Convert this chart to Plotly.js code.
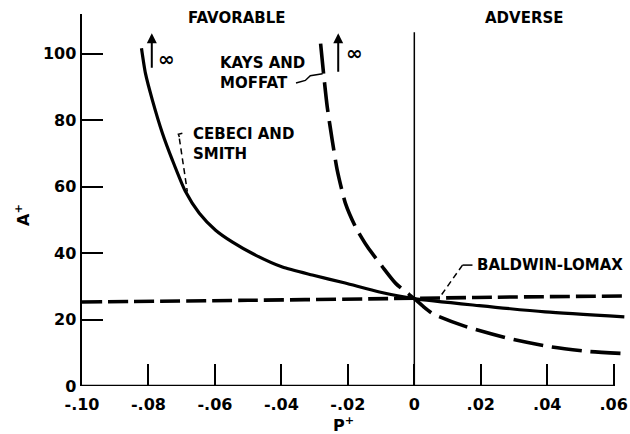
<!DOCTYPE html>
<html>
<head>
<meta charset="utf-8">
<script src="https://cdn.plot.ly/plotly-3.0.1.min.js"></script>
<style>
html,body{margin:0;padding:0;background:#fff;}
#chart{width:630px;height:434px;}
</style>
</head>
<body>
<div id="chart"></div>
<script>
// Cebeci and Smith (solid)
const cebeciX = [-0.0821, -0.0809, -0.0788, -0.0758, -0.0728, -0.0689, -0.0647, -0.0598, -0.0547, -0.0478, -0.0397, -0.0307, -0.0208, -0.0105, 0, 0.0195, 0.0394, 0.0632];
const cebeciY = [101.7, 94.1, 86.0, 76.1, 68.0, 58.6, 52.0, 46.9, 43.3, 39.4, 35.8, 33.4, 31.0, 28.3, 26.3, 24.2, 22.3, 20.8];
// Kays and Moffat (long dashes)
const kaysX = [-0.0282, -0.0272, -0.0262, -0.0247, -0.0232, -0.0207, -0.0177, -0.0141, -0.0096, -0.0056, 0, 0.0024, 0.0055, 0.0149, 0.0285, 0.0410, 0.0525, 0.0626];
const kaysY = [103.1, 93.0, 84.0, 74.0, 65.0, 54.9, 47.9, 41.9, 35.9, 30.9, 26.3, 24.2, 21.8, 18.1, 14.3, 11.8, 10.4, 9.8];
// Baldwin-Lomax (short dashes)
const baldwinX = [-0.10, -0.05, 0, 0.03, 0.0635];
const baldwinY = [25.3, 25.8, 26.4, 26.8, 27.1];
// Ticks
const xTickVals = [-0.10, -0.08, -0.06, -0.04, -0.02, 0, 0.02, 0.04, 0.06];
const xTickText = ['-.10', '-.08', '-.06', '-.04', '-.02', '0', '.02', '.04', '.06'];
const yTickVals = [0, 20, 40, 60, 80, 100];
const yTickText = ['0', '20', '40', '60', '80', '100'];

const FONT = "'DejaVu Sans', sans-serif";
const f = (s) => ({family: FONT, size: s, color: '#000', weight: 'bold'});

const traces = [
  {x: cebeciX, y: cebeciY, mode: 'lines', line: {color: '#000', width: 3.2, shape: 'spline', smoothing: 0.6}, hoverinfo: 'skip'},
  {x: kaysX, y: kaysY, mode: 'lines', line: {color: '#000', width: 3.6, dash: '30px,9px', shape: 'spline', smoothing: 0.6}, hoverinfo: 'skip'},
  {x: baldwinX, y: baldwinY, mode: 'lines', line: {color: '#000', width: 3.6, dash: '20px,6px', shape: 'spline'}, hoverinfo: 'skip'}
];

const layout = {
  width: 630, height: 434,
  margin: {l: 82, r: 3, t: 14, b: 48},
  paper_bgcolor: '#fff', plot_bgcolor: '#fff',
  showlegend: false,
  xaxis: {
    range: [-0.10, 0.064], tickvals: xTickVals, ticktext: xTickText,
    ticks: 'inside', ticklen: 22, tickwidth: 2, tickcolor: '#000',
    showgrid: false, zeroline: false, showline: false,
    tickfont: f(16), ticklabelstandoff: 7, fixedrange: true
  },
  yaxis: {
    range: [0, 112], tickvals: yTickVals, ticktext: yTickText,
    ticks: 'inside', ticklen: 21, tickwidth: 2, tickcolor: '#000',
    showgrid: false, zeroline: false, showline: true, linecolor: '#000', linewidth: 2.5,
    tickfont: f(16), fixedrange: true
  },
  shapes: [
    {type: 'line', xref: 'x', yref: 'y', x0: -0.10, x1: 0.06, y0: 0, y1: 0, line: {color: '#000', width: 2.5}},
    {type: 'line', xref: 'x', yref: 'y', x0: 0, x1: 0, y0: 0, y1: 106.5, line: {color: '#000', width: 1.5}},
    // Kays & Moffat leader
    {type: 'path', xref: 'x', yref: 'y', path: 'M -0.0356,91.2 L -0.0328,92.0 L -0.0313,93.4 L -0.0276,94.0', line: {color: '#000', width: 1.5}},
    // Cebeci leader
    {type: 'path', xref: 'x', yref: 'y', path: 'M -0.0698,76.1 L -0.0710,75.8 L -0.0707,75.0', line: {color: '#000', width: 1.5}},
    {type: 'line', xref: 'x', yref: 'y', x0: -0.0707, y0: 74.5, x1: -0.0683, y1: 58.5, line: {color: '#000', width: 1.5, dash: '6px,4px'}},
    // Baldwin-Lomax leader
    {type: 'line', xref: 'x', yref: 'y', x0: 0.0175, y0: 36.4, x1: 0.0145, y1: 36.4, line: {color: '#000', width: 1.5}},
    {type: 'line', xref: 'x', yref: 'y', x0: 0.0145, y0: 36.4, x1: 0.0075, y1: 26.5, line: {color: '#000', width: 1.5, dash: '6px,4px'}}
  ],
  annotations: [
    {xref: 'paper', yref: 'paper', x: (237 - 82) / 545, y: (386 - 18) / 372, text: 'FAVORABLE', showarrow: false, font: f(15), xanchor: 'center', yanchor: 'middle'},
    {xref: 'paper', yref: 'paper', x: (524 - 82) / 545, y: (386 - 18) / 372, text: 'ADVERSE', showarrow: false, font: f(15), xanchor: 'center', yanchor: 'middle'},
    {xref: 'x', yref: 'y', x: -0.0590, y: 94.1, text: 'KAYS AND<br>MOFFAT', showarrow: false, font: f(15), xanchor: 'left', yanchor: 'middle', align: 'left'},
    {xref: 'x', yref: 'y', x: -0.0671, y: 72.8, text: 'CEBECI AND<br>SMITH', showarrow: false, font: f(15), xanchor: 'left', yanchor: 'middle', align: 'left'},
    {xref: 'x', yref: 'y', x: 0.0183, y: 36.4, text: 'BALDWIN-LOMAX', showarrow: false, font: f(15), xanchor: 'left', yanchor: 'middle', align: 'left'},
    // infinity arrows
    {xref: 'x', yref: 'y', x: -0.0790, y: 106.2, ax: 0, ay: 36, text: '', showarrow: true, arrowhead: 2, arrowsize: 1, arrowwidth: 2, arrowcolor: '#000'},
    {xref: 'x', yref: 'y', x: -0.0745, y: 98.6, text: '∞', showarrow: false, font: {family: FONT, size: 20, color: '#000', weight: 'bold'}, xanchor: 'center', yanchor: 'middle'},
    {xref: 'x', yref: 'y', x: -0.0229, y: 106.2, ax: 0, ay: 40, text: '', showarrow: true, arrowhead: 2, arrowsize: 1, arrowwidth: 2, arrowcolor: '#000'},
    {xref: 'x', yref: 'y', x: -0.0181, y: 100.2, text: '∞', showarrow: false, font: {family: FONT, size: 20, color: '#000', weight: 'bold'}, xanchor: 'center', yanchor: 'middle'},
    // axis titles
    {xref: 'paper', yref: 'paper', x: (22 - 82) / 545, y: (386 - 215) / 372, text: 'A<sup>+</sup>', showarrow: false, textangle: -90, font: f(16), xanchor: 'center', yanchor: 'middle'},
    {xref: 'paper', yref: 'paper', x: (343 - 82) / 545, y: (386 - 425) / 372, text: 'P<sup>+</sup>', showarrow: false, font: f(16), xanchor: 'center', yanchor: 'middle'}
  ]
};

Plotly.newPlot('chart', traces, layout, {displayModeBar: false, staticPlot: true});
</script>
</body>
</html>
